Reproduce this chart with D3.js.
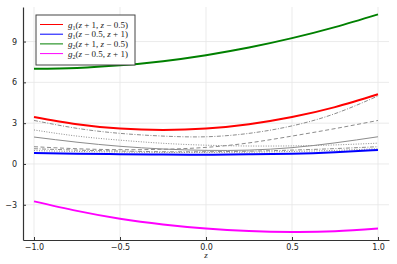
<html>
<head>
<meta charset="UTF-8">
<title>g curves</title>
<script src="https://cdn.jsdelivr.net/npm/d3@7"></script>
<style>
body { margin:0; background:#fff; }
.tick-label { font-family: "DejaVu Sans", sans-serif; font-size: 8px; fill:#222; }
.leg { font-family: "Liberation Serif", "DejaVu Serif", serif; font-size: 9px; fill:#222; }
</style>
</head>
<body>
<svg id="chart" width="397" height="264"></svg>
<script>
// sample points on z
var zs = [-1, -0.75, -0.5, -0.25, 0, 0.25, 0.5, 0.75, 1];

// coloured series
var redVals     = [3.45, 2.92, 2.6, 2.5, 2.6, 2.92, 3.45, 4.18, 5.12];
var blueVals    = [0.8, 0.76, 0.72, 0.69, 0.68, 0.71, 0.76, 0.87, 1.03];
var greenVals   = [7.0, 7.06, 7.25, 7.56, 8.0, 8.56, 9.25, 10.06, 11.0];
var magentaVals = [-2.75, -3.45, -4.03, -4.45, -4.75, -4.93, -5.0, -4.95, -4.75];

// gray reference curves
var grayDashDot  = [3.2, 2.62, 2.25, 2.05, 2.0, 2.25, 2.8, 3.7, 5.0];
var grayDotted   = [2.5, 2.05, 1.75, 1.52, 1.38, 1.32, 1.33, 1.4, 1.53];
var graySolid    = [1.98, 1.6, 1.3, 1.1, 1.0, 1.02, 1.2, 1.55, 2.0];
var grayDashed   = [1.27, 1.12, 1.05, 1.08, 1.22, 1.55, 2.05, 2.6, 3.2];
var grayDashDot2 = [1.12, 1.02, 0.95, 0.9, 0.9, 0.94, 1.02, 1.13, 1.27];
var grayDotted2  = [0.98, 0.92, 0.88, 0.85, 0.85, 0.87, 0.92, 1.0, 1.12];

var xTicks = [-1.0, -0.5, 0.0, 0.5, 1.0];
var yTicks = [-3, 0, 3, 6, 9];

var legendLabels = [
  {g:"1", a:"z + 1", b:"z \u2212 0.5"},
  {g:"1", a:"z \u2212 0.5", b:"z + 1"},
  {g:"2", a:"z + 1", b:"z \u2212 0.5"},
  {g:"2", a:"z \u2212 0.5", b:"z + 1"}
];

var svg = d3.select("#chart");
var pLeft = 23, pRight = 389, pTop = 7, pBottom = 240;

var x = d3.scaleLinear().domain([-1.064, 1.064]).range([pLeft, pRight]);
var y = d3.scaleLinear().domain([-5.59, 11.54]).range([pBottom, pTop]);

// grid
svg.append("g").selectAll("line").data(xTicks).enter().append("line")
  .attr("x1", function(d){ return x(d); }).attr("x2", function(d){ return x(d); })
  .attr("y1", pTop).attr("y2", pBottom)
  .attr("stroke", "#e6e6e6").attr("stroke-width", 0.8);
svg.append("g").selectAll("line").data(yTicks).enter().append("line")
  .attr("y1", function(d){ return y(d); }).attr("y2", function(d){ return y(d); })
  .attr("x1", pLeft).attr("x2", pRight)
  .attr("stroke", "#e6e6e6").attr("stroke-width", 0.8);

// axes
var xAxis = d3.axisBottom(x).tickValues(xTicks).tickSizeInner(-3).tickSizeOuter(0)
  .tickPadding(4).tickFormat(function(d){ return d3.format(".1f")(d).replace("-", "\u2212"); });
var gx = svg.append("g").attr("transform", "translate(0," + pBottom + ")").call(xAxis);
var yAxis = d3.axisLeft(y).tickValues(yTicks).tickSizeInner(-3).tickSizeOuter(0)
  .tickPadding(6).tickFormat(function(d){ return String(d).replace("-", "\u2212"); });
var gy = svg.append("g").attr("transform", "translate(" + pLeft + ",0)").call(yAxis);
[gx, gy].forEach(function(g){
  g.select(".domain").attr("stroke", "#333").attr("stroke-width", 1.2);
  g.selectAll(".tick line").attr("stroke", "#333");
  g.selectAll(".tick text").attr("class", "tick-label").attr("fill", "#222");
});

svg.append("text").attr("x", x(0)).attr("y", 258).attr("text-anchor", "middle")
  .attr("class", "leg").style("font-style", "italic").text("z");

var line = d3.line().x(function(d){ return x(d[0]); }).y(function(d){ return y(d[1]); })
  .curve(d3.curveNatural);

function pts(vals){ return zs.map(function(z, i){ return [z, vals[i]]; }); }

var grays = [
  {v: grayDotted2, dash: "1,1.5"},
  {v: grayDashDot2, dash: "4,1.5,1,1.5"},
  {v: grayDashed, dash: "4,2.5"},
  {v: graySolid, dash: null},
  {v: grayDotted, dash: "1,1.5"},
  {v: grayDashDot, dash: "4,1.5,1,1.5"}
];
svg.append("g").selectAll("path").data(grays).enter().append("path")
  .attr("d", function(d){ return line(pts(d.v)); })
  .attr("fill", "none").attr("stroke", "#8c8c8c").attr("stroke-width", 1)
  .attr("stroke-dasharray", function(d){ return d.dash; });

var series = [
  {v: redVals, c: "#ff0000"},
  {v: blueVals, c: "#0000ff"},
  {v: greenVals, c: "#008000"},
  {v: magentaVals, c: "#ff00ff"}
];
svg.append("g").selectAll("path").data(series).enter().append("path")
  .attr("d", function(d){ return line(pts(d.v)); })
  .attr("fill", "none").attr("stroke", function(d){ return d.c; }).attr("stroke-width", 2);

// legend
var lg = svg.append("g");
lg.append("rect").attr("x", 36).attr("y", 15).attr("width", 99).attr("height", 50)
  .attr("fill", "#fff").attr("stroke", "#444").attr("stroke-width", 1);
var rows = lg.selectAll("g.row").data(series).enter().append("g").attr("class", "row")
  .attr("transform", function(d, i){ return "translate(0," + (24.5 + i * 9.7) + ")"; });
rows.append("line").attr("x1", 40).attr("x2", 63).attr("y1", 0).attr("y2", 0)
  .attr("stroke", function(d){ return d.c; }).attr("stroke-width", 1);
rows.each(function(d, i){
  var L = legendLabels[i];
  var t = d3.select(this).append("text").attr("class", "leg").attr("x", 68).attr("y", 3);
  t.append("tspan").style("font-style", "italic").text("g");
  t.append("tspan").attr("dy", 2).style("font-size", "6px").text(L.g);
  t.append("tspan").attr("dy", -2).text("(");
  var parts = [L.a, ", ", L.b, ")"];
  parts.forEach(function(p){
    var segs = p.split(/(z)/);
    segs.forEach(function(s){
      if (s === "") return;
      var sp = t.append("tspan").text(s);
      if (s === "z") sp.style("font-style", "italic");
    });
  });
});
</script>
</body>
</html>
